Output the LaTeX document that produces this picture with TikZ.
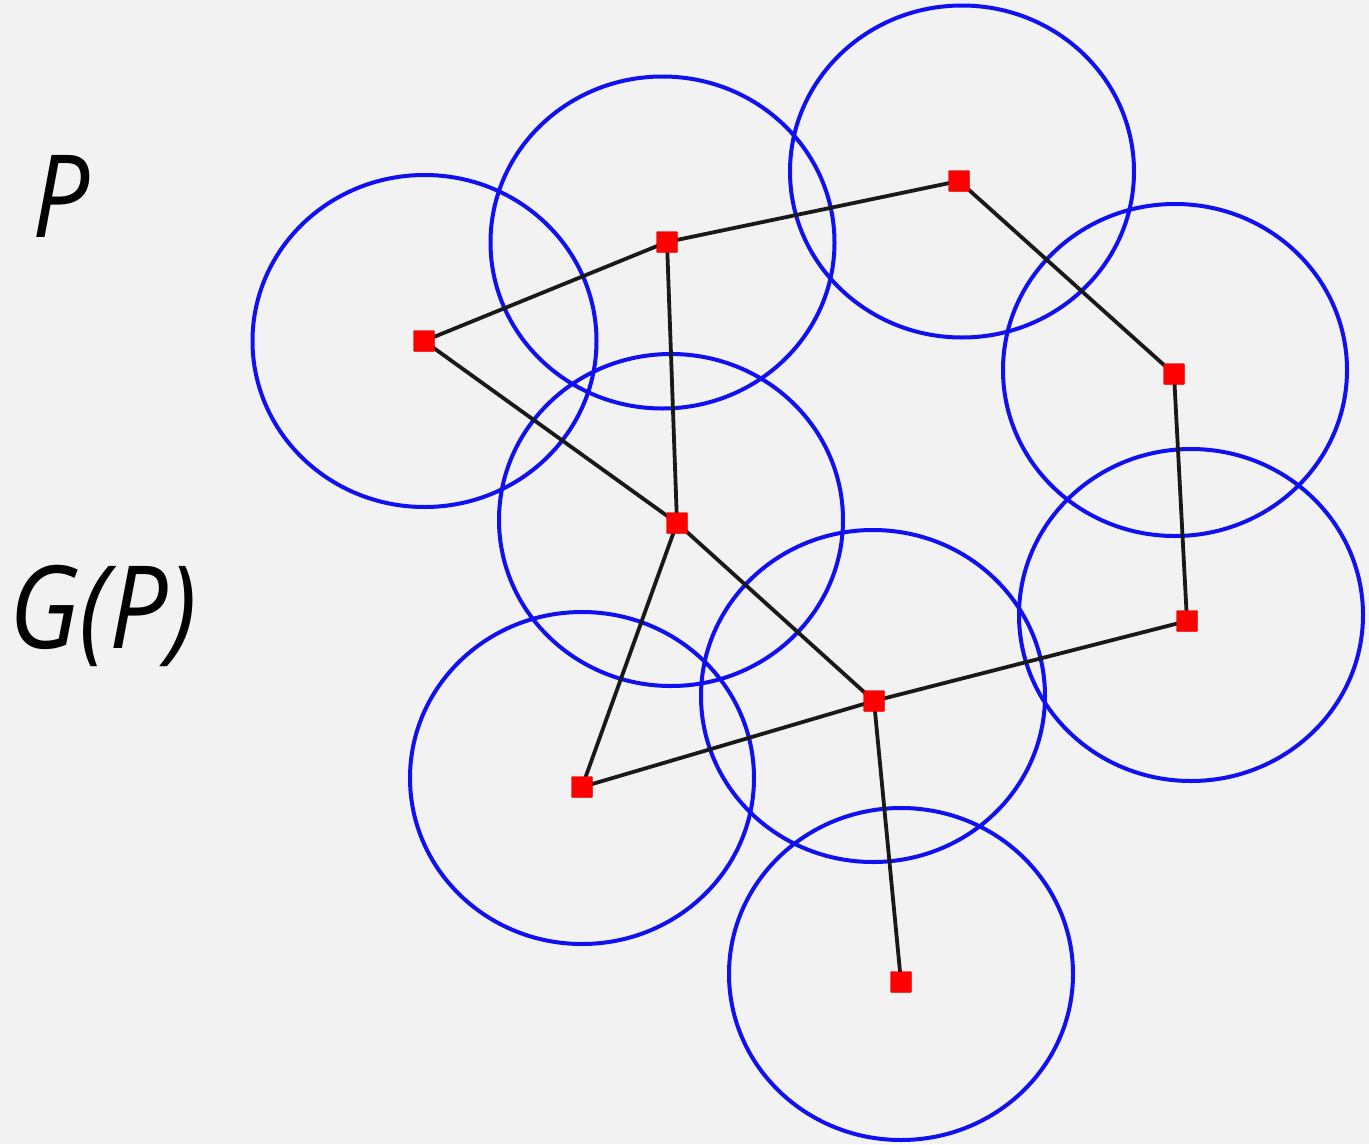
\documentclass[tikz,border=0pt]{standalone}
\usepackage{fontspec}
\usepackage{graphicx}
\setmainfont{Open Sans}
\definecolor{bg}{HTML}{F2F2F2}
\definecolor{cblue}{HTML}{1010F0}
\definecolor{sred}{HTML}{FF0000}
\begin{document}
\begin{tikzpicture}[x=1pt,y=-1pt,
  pt/.style={fill=sred,draw=sred!80!black,line width=0.4pt,minimum size=21pt,inner sep=0pt,rounded corners=1pt},
  edge/.style={black!90,line width=3.8pt},
  lab/.style={font=\fontsize{115}{120}\selectfont\itshape,inner sep=0pt,anchor=base west}]
\fill[bg] (0,0) rectangle (1369,1144);
\useasboundingbox (0,0) rectangle (1369,1144);
% circles
\foreach \n/\x/\y in {A/424.5/341,B/662.5/242.5,C/962/171.5,D/1175/370,E/671/520,F/1191/615,G/873/696,H/582/778,I/901/974}
  \draw[cblue,line width=4pt] (\x,\y) ellipse [x radius=172, y radius=166];
% points
\coordinate (p1) at (424,341);
\coordinate (p2) at (667,242);
\coordinate (p3) at (959,181);
\coordinate (p4) at (1174,374);
\coordinate (p5) at (677,523);
\coordinate (p6) at (1187,621);
\coordinate (p7) at (874,701);
\coordinate (p8) at (582,787);
\coordinate (p9) at (901,982);
\draw[edge] (p1)--(p2)--(p3)--(p4)--(p6)--(p7)--(p9);
\draw[edge] (p1)--(p5)--(p7);
\draw[edge] (p2)--(p5)--(p8)--(p7);
\foreach \i in {1,...,9} \node[pt] (n\i) at (p\i) {};
\node[lab] (lp) at (32,237) {\scalebox{0.88}[1]{P}};
\node[lab] (lg) at (9,648) {\scalebox{0.9}[1]{G(P)}};
\end{tikzpicture}
\end{document}
